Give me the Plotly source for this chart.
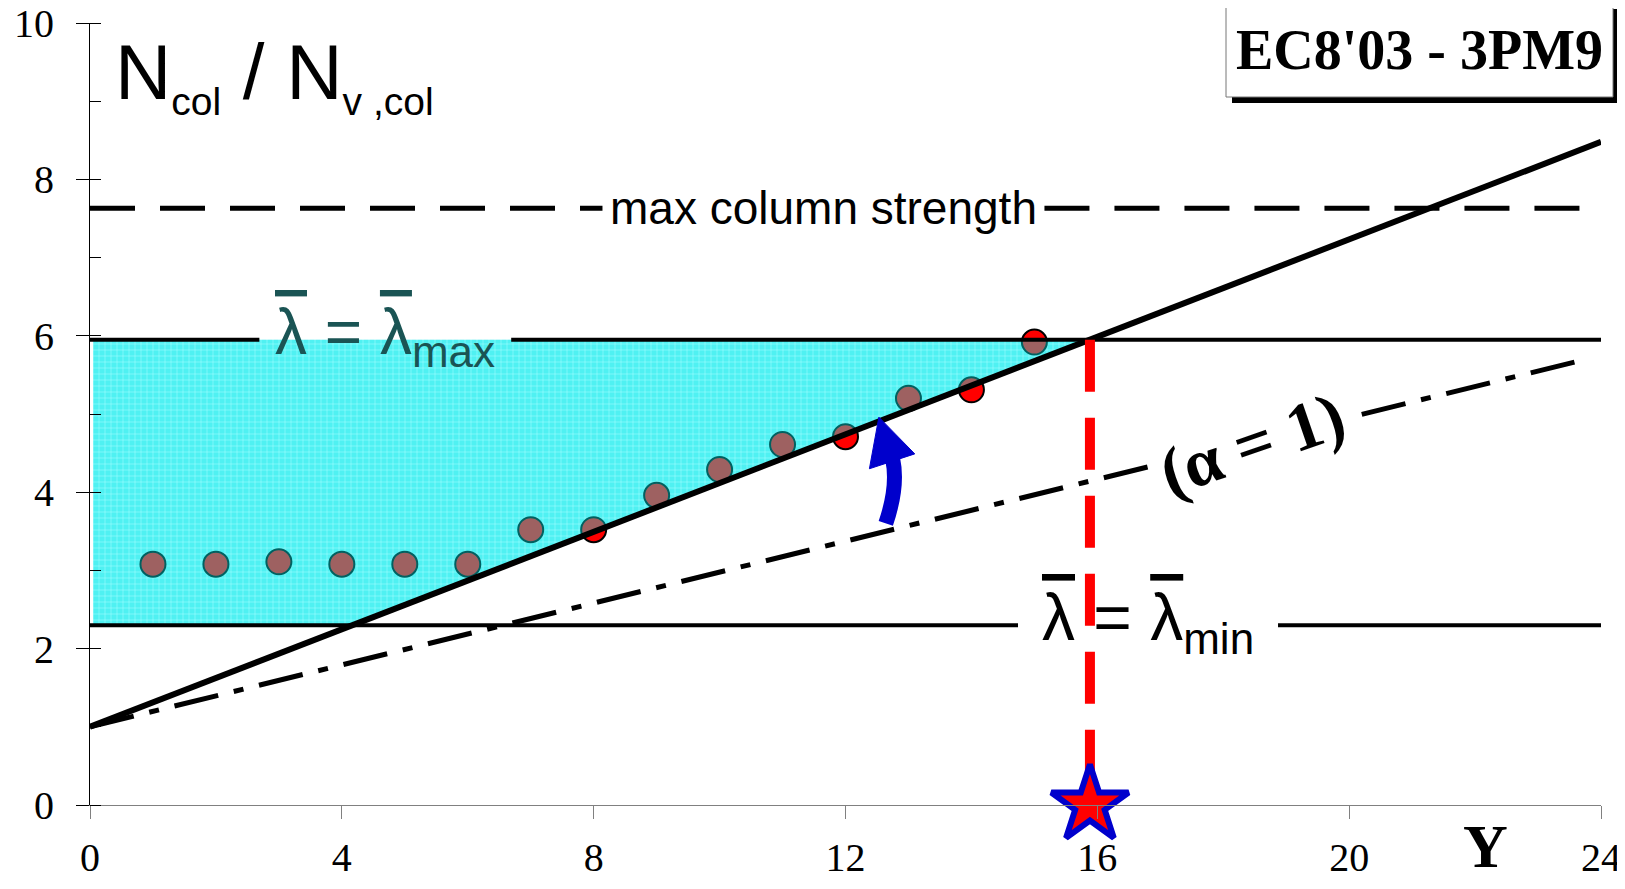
import numpy as np
import plotly.graph_objects as go

# ---------------- data ----------------
STOREY = [1, 2, 3, 4, 5, 6, 7, 8, 9, 10, 11, 12, 13, 14, 15]
NCOL_RATIO = [3.08, 3.08, 3.11, 3.08, 3.08, 3.08, 3.52, 3.52, 3.96, 4.29, 4.61, 4.71, 5.20, 5.31, 5.92]

DESIGN_LINE_X = [0.0, 24.0]
DESIGN_LINE_Y = [1.0, 8.48]
ALPHA1_LINE_X = [0.0, 23.66]
ALPHA1_LINE_Y = [1.0, 5.68]

LAMBDA_MAX = 5.95
LAMBDA_MIN = 2.30
MAX_COL_STRENGTH = 7.63
H_LINE_X = [0.0, 24.0]

X_TICKS = [0, 4, 8, 12, 16, 20, 24]
Y_TICKS = [0, 2, 4, 6, 8, 10]

# gaps left in lines for the labels (x-ranges)
GAP_MAXSTR = [8.14, 15.16]
GAP_LMAX = [2.69, 6.69]
GAP_LMIN = [14.74, 18.87]
GAP_ALPHA = [16.8, 20.2]

# curved blue arrow (data coords)
ARROW_SHAFT = [(12.64, 3.60), (12.84, 4.08), (12.75, 4.42)]
ARROW_HEAD = [(12.53, 4.96), (12.38, 4.30), (13.10, 4.49)]

# ---------------- derived ----------------
Y_STAR = float(np.interp(LAMBDA_MAX, DESIGN_LINE_Y, DESIGN_LINE_X))
Y_LOW = float(np.interp(LAMBDA_MIN, DESIGN_LINE_Y, DESIGN_LINE_X))

# page has an 8px body margin; figure sized to fit the 1625x889 window
OFF = 8
W, H = 1625 - OFF, 889 - OFF
L, R, T, B = 90 - OFF, 24, 23 - OFF, 84
PW, PH = W - L - R, H - T - B


def pxx(px):  # page pixel -> paper x
    return (px - OFF - L) / PW


def pxy(py):  # page pixel -> paper y
    return (H - B - (py - OFF)) / PH


def broken(xs, ys, gap):
    g0, g1 = gap
    y0 = float(np.interp(g0, xs, ys))
    y1 = float(np.interp(g1, xs, ys))
    return [xs[0], g0, None, g1, xs[-1]], [ys[0], y0, None, y1, ys[-1]]


fig = go.Figure()

fill_x = [0.05, Y_LOW, Y_STAR, 0.05, 0.05]
fill_y = [LAMBDA_MIN, LAMBDA_MIN, LAMBDA_MAX, LAMBDA_MAX, LAMBDA_MIN]

# base fill (patterned cyan)
fig.add_trace(go.Scatter(
    x=fill_x, y=fill_y, mode="lines", fill="toself",
    fillcolor="#86eaea", line=dict(width=0),
    fillpattern=dict(shape="+", size=6, solidity=0.18, fgcolor="#ffffff",
                     bgcolor="#80e8ea", fillmode="replace"),
    hoverinfo="skip", showlegend=False))

# storey points
fig.add_trace(go.Scatter(
    x=STOREY, y=NCOL_RATIO, mode="markers",
    marker=dict(size=25, color="#ff0000", line=dict(color="black", width=2)),
    showlegend=False))

# translucent cyan overlay on top of points
fig.add_trace(go.Scatter(
    x=fill_x, y=fill_y, mode="lines", fill="toself",
    fillcolor="rgba(0,255,255,0.38)", line=dict(width=0),
    hoverinfo="skip", showlegend=False))

# max column strength dashed line
xs, ys = broken(H_LINE_X, [MAX_COL_STRENGTH] * 2, GAP_MAXSTR)
fig.add_trace(go.Scatter(x=xs, y=ys, mode="lines",
                         line=dict(color="black", width=5, dash="45px,25px"),
                         showlegend=False))
# lambda max line
xs, ys = broken(H_LINE_X, [LAMBDA_MAX] * 2, GAP_LMAX)
fig.add_trace(go.Scatter(x=xs, y=ys, mode="lines",
                         line=dict(color="black", width=4), showlegend=False))
# lambda min line
xs, ys = broken(H_LINE_X, [LAMBDA_MIN] * 2, GAP_LMIN)
fig.add_trace(go.Scatter(x=xs, y=ys, mode="lines",
                         line=dict(color="black", width=4), showlegend=False))
# design line
fig.add_trace(go.Scatter(x=DESIGN_LINE_X, y=DESIGN_LINE_Y, mode="lines",
                         line=dict(color="black", width=6), showlegend=False))
# alpha = 1 dash-dot line
xs, ys = broken(ALPHA1_LINE_X, ALPHA1_LINE_Y, GAP_ALPHA)
fig.add_trace(go.Scatter(x=xs, y=ys, mode="lines",
                         line=dict(color="black", width=5, dash="45px,16px,10px,16px"),
                         showlegend=False))
# red dashed vertical
fig.add_trace(go.Scatter(x=[Y_STAR, Y_STAR], y=[LAMBDA_MAX, 0], mode="lines",
                         line=dict(color="#ff0000", width=10, dash="52px,26px"),
                         showlegend=False))
# star
fig.add_trace(go.Scatter(x=[Y_STAR], y=[0], mode="markers", cliponaxis=False,
                         marker=dict(symbol="star", size=58, color="#ff0000",
                                     line=dict(color="#0000cc", width=6)),
                         showlegend=False))

# ---------------- shapes ----------------
(s0x, s0y), (scx, scy), (s1x, s1y) = ARROW_SHAFT
(h0x, h0y), (h1x, h1y), (h2x, h2y) = ARROW_HEAD
shapes = [
    dict(type="path", xref="x", yref="y", layer="above",
         path=f"M {s0x},{s0y} Q {scx},{scy} {s1x},{s1y}",
         line=dict(color="#0000cc", width=15)),
    dict(type="path", xref="x", yref="y", layer="above",
         path=f"M {h0x},{h0y} L {h1x},{h1y} L {h2x},{h2y} Z",
         fillcolor="#0000cc", line=dict(color="#0000cc", width=1)),
    # box shadow
    dict(type="rect", xref="paper", yref="paper", layer="above",
         x0=pxx(1232), x1=pxx(1619), y0=pxy(103), y1=pxy(9),
         fillcolor="black", line=dict(width=0)),
    # box
    dict(type="rect", xref="paper", yref="paper", layer="above",
         x0=pxx(1226), x1=pxx(1613), y0=pxy(97), y1=pxy(3),
         fillcolor="white", line=dict(color="#777777", width=1)),
]

sans = "Liberation Sans, Arial, sans-serif"
serif = "Liberation Serif, Times New Roman, serif"
OV = "<span style='text-decoration:overline'>\u03bb</span>"

annotations = [
    dict(x=pxx(1419), y=pxy(50), xref="paper", yref="paper",
         text="<b>EC8'03 - 3PM9</b>", showarrow=False,
         font=dict(family=serif, size=56, color="black"),
         xanchor="center", yanchor="middle"),
    dict(x=0.36, y=9.33, xref="x", yref="y", showarrow=False,
         text="N<sub><span style='font-size:39px'>col</span></sub> / "
              "N<sub><span style='font-size:39px'>v ,col</span></sub>",
         font=dict(family=sans, size=78, color="black"),
         xanchor="left", yanchor="middle"),
    dict(x=sum(GAP_MAXSTR) / 2, y=MAX_COL_STRENGTH, xref="x", yref="y", showarrow=False,
         text="max column strength", font=dict(family=sans, size=46, color="black"),
         xanchor="center", yanchor="middle"),
    dict(x=sum(GAP_LMAX) / 2, y=LAMBDA_MAX + 0.05, xref="x", yref="y", showarrow=False,
         text=OV + " = " + OV + "<sub><span style='font-size:44px'>max</span></sub>",
         font=dict(family=sans, size=64, color="#1a5454"),
         xanchor="center", yanchor="middle"),
    dict(x=sum(GAP_LMIN) / 2, y=LAMBDA_MIN + 0.05, xref="x", yref="y", showarrow=False,
         text=OV + " = " + OV + "<sub><span style='font-size:44px'>min</span></sub>",
         font=dict(family=sans, size=66, color="black"),
         xanchor="center", yanchor="middle"),
    dict(x=18.45, y=4.62, xref="x", yref="y", showarrow=False, textangle=-19,
         text="<b>(\u03b1 = 1)</b>", font=dict(family=serif, size=68, color="black"),
         xanchor="center", yanchor="middle"),
    dict(x=pxx(1485), y=pxy(846), xref="paper", yref="paper", showarrow=False,
         text="<b>Y</b>", font=dict(family=serif, size=62, color="black"),
         xanchor="center", yanchor="middle"),
]

fig.update_layout(
    width=W, height=H,
    margin=dict(l=L, r=R, t=T, b=B, autoexpand=False),
    paper_bgcolor="white", plot_bgcolor="white",
    shapes=shapes, annotations=annotations,
    showlegend=False,
    xaxis=dict(range=[0, 24], tickvals=X_TICKS, ticktext=[str(v) for v in X_TICKS],
               automargin=False, ticklabeloverflow="allow",
               showgrid=False, zeroline=False, showline=True, linecolor="#808080", linewidth=1,
               ticks="outside", ticklen=13, tickcolor="#808080", tickwidth=1,
               ticklabelstandoff=4,
               tickfont=dict(family=serif, size=40, color="black")),
    yaxis=dict(range=[0, 10], tickvals=Y_TICKS, ticktext=[str(v) for v in Y_TICKS],
               automargin=False, ticklabeloverflow="allow",
               showgrid=False, zeroline=False, showline=True, linecolor="black", linewidth=1,
               ticks="outside", ticklen=13, tickcolor="black", tickwidth=1,
               ticklabelstandoff=14,
               minor=dict(ticks="inside", ticklen=11, dtick=1, tickcolor="black", showgrid=False),
               tickfont=dict(family=serif, size=40, color="black")),
)

fig.write_html("out.html")
